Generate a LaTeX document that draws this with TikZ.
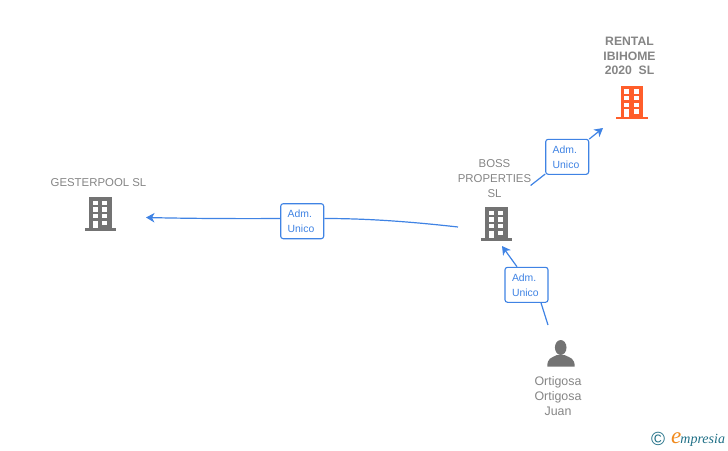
\documentclass[tikz,border=0pt]{standalone}
\usepackage{fontspec}
\setmainfont{Liberation Sans}
\newfontfamily\logofont{Liberation Serif}
\usepackage{xcolor}
\usetikzlibrary{arrows.meta,positioning}
\definecolor{linkblue}{HTML}{3F83E4}
\definecolor{labelgrey}{HTML}{858585}
\definecolor{iconorange}{HTML}{FF5E2B}
\definecolor{icongrey}{HTML}{737373}
\definecolor{logoteal}{HTML}{1F6F86}
\definecolor{logoorange}{HTML}{F08A1D}

\tikzset{
  base/.style={align=center, inner sep=0pt},
  lbl/.style={base, text=labelgrey, font=\fontsize{11.4}{14.7}\selectfont},
  perslbl/.style={lbl, font=\fontsize{12.4}{14.7}\selectfont},
  boldlbl/.style={lbl, font=\fontsize{12.2}{14.7}\selectfont\bfseries},
  adm/.style={base, align=left, draw=linkblue, fill=white, rounded corners=2.5pt, line width=1.1pt,
    text=linkblue, text width=29pt, minimum width=43pt, minimum height=35pt, font=\fontsize{10.4}{15}\selectfont},
  link/.style={draw=linkblue, line width=1.2pt},
  linkto/.style={link, -{Stealth[length=8.5pt, width=9.5pt, inset=2.5pt]}},
  pics/bldg/.style={code={
    \fill[#1] (-15.7,-2.5) rectangle (15.7,0);
    \fill[#1] (-11.2,-33.5) rectangle (11.2,-1);
    \foreach \y in {-29.9,-23.3,-16.6} {
      \fill[white] (-7.6,\y) rectangle (-2.8,\y+4.3);
      \fill[white] (2,\y) rectangle (6.9,\y+4.3);
    }
    \fill[white] (-7.6,-9.9) rectangle (-2.8,-2.5);
    \fill[white] (2,-9.9) rectangle (6.9,-5.6);
  }},
}

\begin{document}
\begin{tikzpicture}[x=1pt, y=-1pt]
\useasboundingbox (0,0) rectangle (728,450);

\pic at (632,119.3) {bldg=iconorange};
\pic at (496.3,240.7) {bldg=icongrey};
\pic at (100.3,230.7) {bldg=icongrey};

% person
\fill[icongrey] (560.7,347.5) ellipse (5.8 and 7.5);
\fill[icongrey] (547.3,366.7) .. controls (547.3,358) and (551,358) .. (557,355)
  -- (564.4,355) .. controls (570.5,358) and (574.7,358) .. (574.7,366.7) -- cycle;

\node [boldlbl] (rental) at (629.5,56) {RENTAL\\IBIHOME\\2020\ \ SL};
\node [lbl] (boss) at (494.5,178.5) {BOSS\\PROPERTIES\\SL};
\node [lbl] (gester) at (98.5,182.5) {GESTERPOOL SL};
\node [perslbl] (ortigosa) at (558,396) {Ortigosa\\Ortigosa\\Juan};

\node [adm] (admA) at (567.2,156.8) {Adm.\\Unico};
\node [adm] (admB) at (526.5,284.8) {Adm.\\Unico};
\node [adm] (admC) at (302.2,221.2) {Adm.\\Unico};

\coordinate (bossout) at (530.6,185.5);
\coordinate (rentalin) at (603,128);
\coordinate (ortigosaout) at (548,325);
\coordinate (bossin) at (502,246);
\coordinate (bossleft) at (458,227);
\coordinate (gesterin) at (146,217.5);

\draw[link] (bossout) -- (admA);
\draw[linkto] (admA) -- (rentalin);
\draw[link] (ortigosaout) -- ([xshift=14.5pt]admB.south);
\draw[linkto] ([xshift=-9.5pt]admB.north) -- (bossin);
\draw[link] (bossleft) .. controls (400,220.5) and (360,218.5) .. (admC.east |- 0,218.5);
\draw[linkto] (admC.west |- 0,218.5) .. controls (240,218.8) and (190,218.5) .. (gesterin);

\node [base, text=logoteal, font=\fontsize{19}{19}\selectfont] (copyr) at (658,438.5) {©};
\node [base, anchor=base west, font=\logofont\itshape\fontsize{14}{14}\selectfont, text=logoteal] (logo) at (671,443)
  {{\color{logoorange}\fontsize{23}{23}\selectfont e}\kern-1pt mpresia};
\end{tikzpicture}
\end{document}
